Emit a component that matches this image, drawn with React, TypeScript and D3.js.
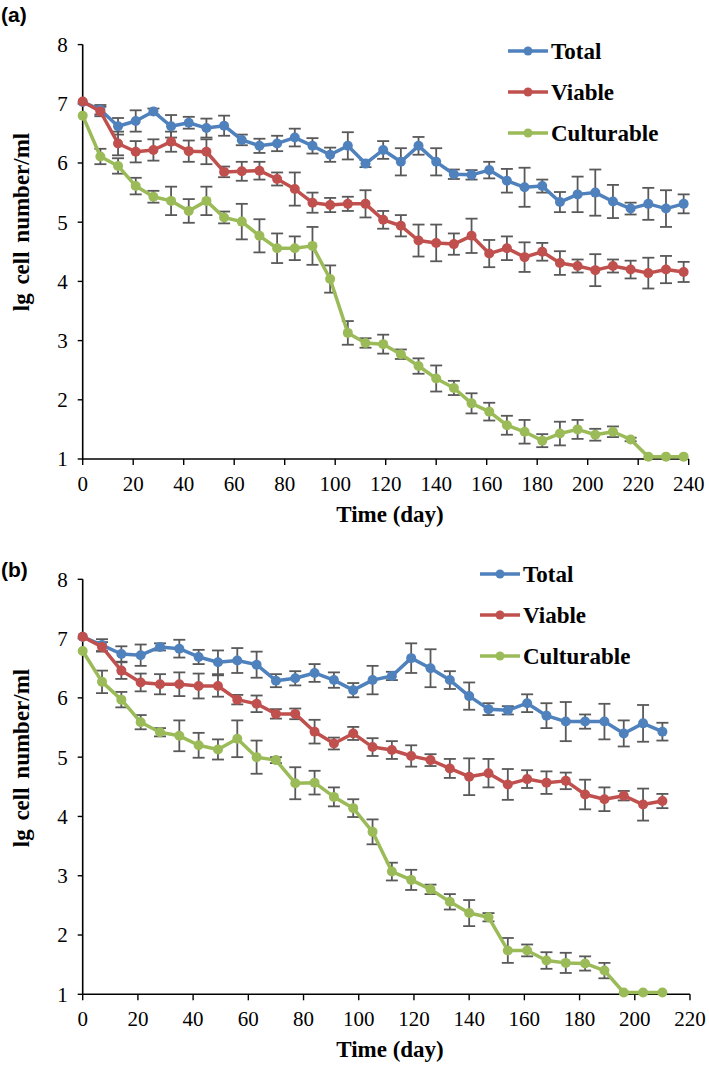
import * as d3 from "d3";

// sampling days
const DAYS_A = [0, 7, 14, 21, 28, 35, 42, 49, 56, 63, 70, 77, 84, 91, 98, 105, 112, 119, 126, 133, 140, 147, 154, 161, 168, 175, 182, 189, 196, 203, 210, 217, 224, 231, 238];
const DAYS_B = [0, 7, 14, 21, 28, 35, 42, 49, 56, 63, 70, 77, 84, 91, 98, 105, 112, 119, 126, 133, 140, 147, 154, 161, 168, 175, 182, 189, 196, 203, 210];

// panel (a)
const TOTAL_A = [7.03, 6.90, 6.62, 6.71, 6.87, 6.62, 6.68, 6.59, 6.63, 6.39, 6.29, 6.33, 6.43, 6.29, 6.14, 6.29, 5.99, 6.22, 6.02, 6.29, 6.02, 5.81, 5.80, 5.88, 5.70, 5.59, 5.61, 5.34, 5.47, 5.50, 5.35, 5.23, 5.31, 5.23, 5.31];
const TOTAL_A_ERR = [0.02, 0.08, 0.14, 0.18, 0.05, 0.19, 0.10, 0.16, 0.17, 0.09, 0.12, 0.13, 0.15, 0.13, 0.12, 0.23, 0.06, 0.15, 0.23, 0.15, 0.23, 0.08, 0.08, 0.14, 0.20, 0.33, 0.11, 0.17, 0.30, 0.39, 0.28, 0.10, 0.27, 0.31, 0.16];
const VIABLE_A = [7.04, 6.87, 6.33, 6.19, 6.22, 6.36, 6.20, 6.19, 5.85, 5.86, 5.87, 5.73, 5.56, 5.33, 5.29, 5.31, 5.31, 5.04, 4.94, 4.69, 4.65, 4.63, 4.77, 4.47, 4.56, 4.41, 4.50, 4.31, 4.26, 4.19, 4.26, 4.20, 4.14, 4.20, 4.16];
const VIABLE_A_ERR = [0.02, 0.08, 0.20, 0.18, 0.18, 0.17, 0.18, 0.21, 0.09, 0.16, 0.15, 0.11, 0.28, 0.17, 0.12, 0.12, 0.23, 0.15, 0.18, 0.27, 0.31, 0.18, 0.29, 0.23, 0.20, 0.25, 0.15, 0.20, 0.11, 0.27, 0.11, 0.15, 0.26, 0.23, 0.17];
const CULT_A = [6.80, 6.11, 5.95, 5.61, 5.43, 5.36, 5.19, 5.36, 5.08, 5.01, 4.77, 4.56, 4.56, 4.60, 4.04, 3.13, 2.96, 2.94, 2.77, 2.57, 2.36, 2.20, 1.94, 1.80, 1.57, 1.46, 1.31, 1.43, 1.50, 1.41, 1.46, 1.33, 1.04, 1.04, 1.04];
const CULT_A_ERR = [0.02, 0.13, 0.13, 0.14, 0.10, 0.24, 0.20, 0.24, 0.10, 0.30, 0.28, 0.25, 0.20, 0.32, 0.23, 0.20, 0.08, 0.16, 0.08, 0.13, 0.22, 0.12, 0.17, 0.15, 0.16, 0.20, 0.11, 0.20, 0.16, 0.10, 0.09, 0.03, 0, 0, 0];

// panel (b)
const TOTAL_B = [7.03, 6.89, 6.74, 6.72, 6.86, 6.83, 6.69, 6.60, 6.63, 6.56, 6.29, 6.33, 6.42, 6.30, 6.13, 6.30, 6.37, 6.67, 6.50, 6.30, 6.03, 5.81, 5.79, 5.91, 5.70, 5.60, 5.60, 5.60, 5.40, 5.57, 5.43];
const TOTAL_B_ERR = [0.02, 0.10, 0.13, 0.18, 0.06, 0.15, 0.12, 0.20, 0.21, 0.22, 0.11, 0.12, 0.15, 0.13, 0.12, 0.24, 0.07, 0.25, 0.32, 0.15, 0.23, 0.10, 0.07, 0.15, 0.21, 0.33, 0.12, 0.30, 0.22, 0.31, 0.15];
const VIABLE_B = [7.03, 6.86, 6.46, 6.26, 6.23, 6.23, 6.20, 6.20, 5.97, 5.90, 5.73, 5.73, 5.43, 5.23, 5.40, 5.17, 5.12, 5.02, 4.95, 4.81, 4.67, 4.73, 4.54, 4.63, 4.57, 4.60, 4.37, 4.29, 4.35, 4.20, 4.26];
const VIABLE_B_ERR = [0.02, 0.08, 0.14, 0.15, 0.17, 0.20, 0.21, 0.18, 0.08, 0.14, 0.08, 0.09, 0.20, 0.10, 0.11, 0.15, 0.15, 0.18, 0.10, 0.16, 0.31, 0.24, 0.26, 0.15, 0.19, 0.14, 0.25, 0.20, 0.08, 0.27, 0.12];
const CULT_B = [6.79, 6.27, 5.97, 5.59, 5.42, 5.36, 5.20, 5.13, 5.31, 5.00, 4.95, 4.56, 4.57, 4.33, 4.14, 3.74, 3.07, 2.93, 2.77, 2.56, 2.37, 2.30, 1.74, 1.74, 1.57, 1.53, 1.52, 1.40, 1.03, 1.03, 1.03];
const CULT_B_ERR = [0.02, 0.19, 0.13, 0.12, 0.07, 0.26, 0.21, 0.17, 0.31, 0.28, 0.05, 0.27, 0.20, 0.16, 0.15, 0.21, 0.15, 0.17, 0.08, 0.13, 0.22, 0.07, 0.21, 0.10, 0.14, 0.17, 0.12, 0.13, 0, 0, 0];

const SERIES_NAMES = ["Total", "Viable", "Culturable"];
const COLORS = ["#4F81BD", "#C0504D", "#9BBB59"];
const Y_TICKS = [1, 2, 3, 4, 5, 6, 7, 8];
const X_TICKS_A = [0, 20, 40, 60, 80, 100, 120, 140, 160, 180, 200, 220, 240];
const X_TICKS_B = [0, 20, 40, 60, 80, 100, 120, 140, 160, 180, 200, 220];

const SERIF = "Liberation Serif, Times New Roman, Tinos, DejaVu Serif, serif";
const SANS = "Liberation Sans, Arial, sans-serif";
const ERR_COLOR = "#595959";

type PanelProps = {
  tag: string;
  tagY: number;
  days: number[];
  series: number[][];
  errors: number[][];
  xTicks: number[];
  xMax: number;
  x0: number; x1: number;
  yBottom: number; yTop: number;
  titleY: number;
  legendX: number; legendY: number[];
};

function Panel(p: PanelProps) {
  const x = d3.scaleLinear().domain([0, p.xMax]).range([p.x0, p.x1]);
  const y = d3.scaleLinear().domain([1, 8]).range([p.yBottom, p.yTop]);
  const line = d3.line<number>().x((_, i) => x(p.days[i])).y(v => y(v));
  const cap = 6;

  return (
    <g>
      <text x={1} y={p.tagY} style={{ fontFamily: SANS, fontWeight: 700, fontSize: 21 }}>{p.tag}</text>

      {/* axes */}
      <line x1={p.x0} x2={p.x0} y1={p.yTop} y2={p.yBottom} stroke="#000" strokeWidth={1.6} />
      <line x1={p.x0} x2={p.x1} y1={p.yBottom} y2={p.yBottom} stroke="#000" strokeWidth={1.6} />
      {Y_TICKS.map(t => (
        <g key={"y" + t}>
          <line x1={p.x0 - 5} x2={p.x0} y1={y(t)} y2={y(t)} stroke="#000" strokeWidth={1.4} />
          <text x={p.x0 - 15} y={y(t)} dy="0.35em" textAnchor="end" style={{ fontFamily: SERIF, fontSize: 21 }}>{t}</text>
        </g>
      ))}
      {p.xTicks.map(t => (
        <g key={"x" + t}>
          <line x1={x(t)} x2={x(t)} y1={p.yBottom} y2={p.yBottom + 6} stroke="#000" strokeWidth={1.4} />
          <text x={x(t)} y={p.yBottom + 32} textAnchor="middle" style={{ fontFamily: SERIF, fontSize: 21 }}>{t}</text>
        </g>
      ))}
      <text x={390} y={p.yBottom + 63} textAnchor="middle" style={{ fontFamily: SERIF, fontWeight: 700, fontSize: 23 }}>Time (day)</text>
      <text transform={`translate(29,${p.titleY}) rotate(-90)`} textAnchor="middle" style={{ fontFamily: SERIF, fontWeight: 700, fontSize: 23, wordSpacing: 3 }}>lg cell number/ml</text>

      {/* error bars */}
      {p.series.map((s, si) => (
        <g key={"e" + si} stroke={ERR_COLOR} strokeWidth={1.8}>
          {s.map((v, i) => {
            const e = p.errors[si][i];
            if (e <= 0.02) return null;
            const cx = x(p.days[i]);
            const ya = y(v + e), yb = y(v - e);
            return (
              <g key={i}>
                <line x1={cx} x2={cx} y1={ya} y2={yb} />
                <line x1={cx - cap} x2={cx + cap} y1={ya} y2={ya} />
                <line x1={cx - cap} x2={cx + cap} y1={yb} y2={yb} />
              </g>
            );
          })}
        </g>
      ))}

      {/* series */}
      {p.series.map((s, si) => (
        <g key={"s" + si}>
          <path d={line(s) ?? ""} fill="none" stroke={COLORS[si]} strokeWidth={3.5} strokeLinejoin="round" />
          {s.map((v, i) => (
            <circle key={i} cx={x(p.days[i])} cy={y(v)} r={5} fill={COLORS[si]} />
          ))}
        </g>
      ))}

      {/* legend */}
      {SERIES_NAMES.map((n, i) => (
        <g key={n}>
          <line x1={p.legendX} x2={p.legendX + 40} y1={p.legendY[i]} y2={p.legendY[i]} stroke={COLORS[i]} strokeWidth={3.5} />
          <circle cx={p.legendX + 20} cy={p.legendY[i]} r={4.5} fill={COLORS[i]} />
          <text x={p.legendX + 43} y={p.legendY[i]} dy="0.35em" style={{ fontFamily: SERIF, fontWeight: 700, fontSize: 23 }}>{n}</text>
        </g>
      ))}
    </g>
  );
}

export default function App() {
  return (
    <div style={{ position: "absolute", left: 0, top: 0 }}>
      <svg width={709} height={1068} style={{ display: "block", background: "#fff" }}>
        <Panel
          tag="(a)" tagY={22}
          days={DAYS_A}
          series={[TOTAL_A, VIABLE_A, CULT_A]}
          errors={[TOTAL_A_ERR, VIABLE_A_ERR, CULT_A_ERR]}
          xTicks={X_TICKS_A} xMax={240}
          x0={82.7} x1={688.7}
          yBottom={459} yTop={44.6}
          titleY={222}
          legendX={508} legendY={[51, 92, 133]}
        />
        <Panel
          tag="(b)" tagY={577}
          days={DAYS_B}
          series={[TOTAL_B, VIABLE_B, CULT_B]}
          errors={[TOTAL_B_ERR, VIABLE_B_ERR, CULT_B_ERR]}
          xTicks={X_TICKS_B} xMax={220}
          x0={82.7} x1={690}
          yBottom={994.3} yTop={579.3}
          titleY={758}
          legendX={480} legendY={[574, 615, 656]}
        />
      </svg>
    </div>
  );
}
